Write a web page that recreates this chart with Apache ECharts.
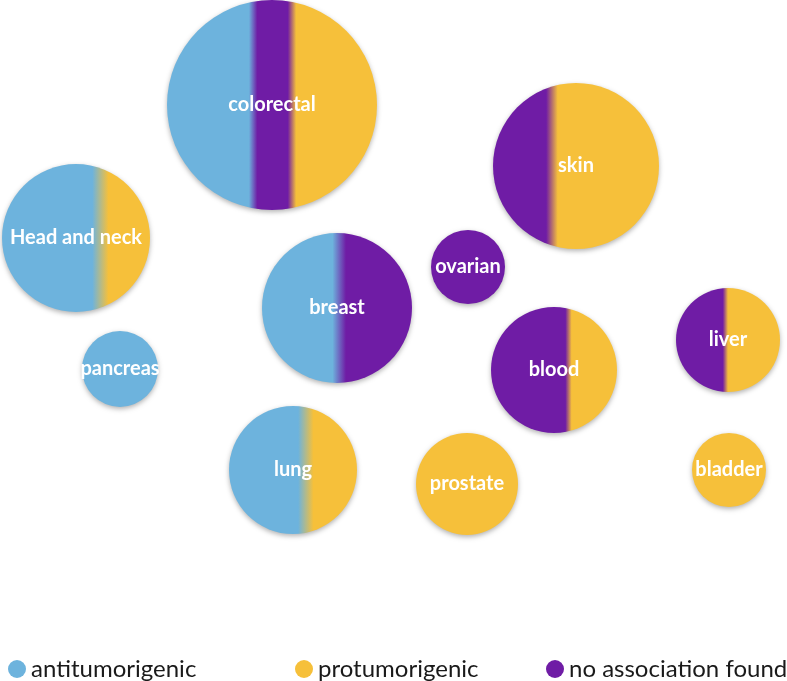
<!DOCTYPE html>
<html>
<head>
<meta charset="utf-8">
<script src="https://cdn.jsdelivr.net/npm/echarts@6/dist/echarts.min.js"></script>
<style>
html,body{margin:0;padding:0;background:#fff;}
#c{width:787px;height:681px;}
</style>
</head>
<body>
<div id="c"></div>
<script>
// Cancer types (bubble labels)
var cancers = ['colorectal','skin','Head and neck','breast','ovarian','blood','liver','pancreas','lung','prostate','bladder'];
// Bubble layout positions (arbitrary layout units) and radii
var posX   = [272, 576, 76, 337, 468, 554, 728, 120, 293, 467, 729];
var posY   = [105, 166, 238, 308, 267, 370, 340, 369, 470, 484, 470];
var radius = [105, 83, 74, 75, 37, 63, 52, 38, 64, 51, 37];
// Share of findings per cancer type
var antiShare = [0.41, 0,     0.665, 0.515, 0, 0,     0,     1, 0.60, 0, 0];
var noneShare = [0.185,0.355, 0,     0.485, 1, 0.615, 0.475, 0, 0,    0, 0];
var proShare  = [0.405,0.645, 0.335, 0,     0, 0.385, 0.525, 0, 0.40, 1, 1];
// Legend categories
var legendNames = ['antitumorigenic','protumorigenic','no association found'];

var BLUE = '#6db3dd', YELLOW = '#f6c03a', PURPLE = '#6f1ca5';
var blendHalf = [0.02, 0.035, 0.055, 0.045, 0, 0.025, 0.025, 0, 0.06, 0, 0];

function gradientFor(i) {
  var segs = [];
  if (antiShare[i] > 0) segs.push([antiShare[i], BLUE]);
  if (noneShare[i] > 0) segs.push([noneShare[i], PURPLE]);
  if (proShare[i] > 0) segs.push([proShare[i], YELLOW]);
  if (segs.length === 1) return segs[0][1];
  var total = segs.reduce(function(a, s){ return a + s[0]; }, 0);
  var stops = [], start = 0, h = blendHalf[i];
  segs.forEach(function(s, k){
    var end = start + s[0] / total;
    stops.push({offset: k === 0 ? 0 : Math.min(1, start + h), color: s[1]});
    stops.push({offset: k === segs.length - 1 ? 1 : Math.max(0, end - h), color: s[1]});
    start = end;
  });
  return new echarts.graphic.LinearGradient(0, 0, 1, 0, stops);
}

var bubbleData = cancers.map(function(name, i){
  return {
    name: name,
    value: [posX[i], posY[i], radius[i]],
    itemStyle: { color: gradientFor(i) }
  };
});

var legendColors = [BLUE, YELLOW, PURPLE];
var legendLeft = [8, 295, 546];

var series = [{
  type: 'scatter',
  name: 'cancers',
  data: bubbleData,
  clip: false,
  symbolSize: function(v){ return v[2] * 2; },
  itemStyle: {
    opacity: 1,
    shadowBlur: 5,
    shadowOffsetY: 2,
    shadowColor: 'rgba(0,0,0,0.3)'
  },
  label: {
    show: true,
    position: 'inside',
    formatter: '{b}',
    color: '#fff',
    fontFamily: 'Lato',
    fontWeight: 'bold',
    fontSize: 20
  },
  emphasis: { disabled: true }
}];
legendNames.forEach(function(n, i){
  series.push({ type: 'scatter', name: n, data: [], itemStyle: { color: legendColors[i], opacity: 1 } });
});

var chart = echarts.init(document.getElementById('c'), null, {renderer: 'canvas'});
chart.setOption({
  animation: false,
  backgroundColor: '#fff',
  grid: { left: 0, right: 0, top: 0, bottom: 0 },
  xAxis: { type: 'value', min: 0, max: 787, show: false },
  yAxis: { type: 'value', min: 0, max: 681, inverse: true, show: false },
  legend: legendNames.map(function(n, i){
    return {
      data: [{ name: n, itemStyle: { color: legendColors[i], opacity: 1 } }],
      left: legendLeft[i],
      top: 657,
      icon: 'circle',
      itemWidth: 18,
      itemHeight: 18,
      selectedMode: false,
      padding: 0,
      textStyle: { fontFamily: 'Lato', fontSize: 24, color: '#1a1a1a' }
    };
  }),
  series: series
});
</script>
</body>
</html>
